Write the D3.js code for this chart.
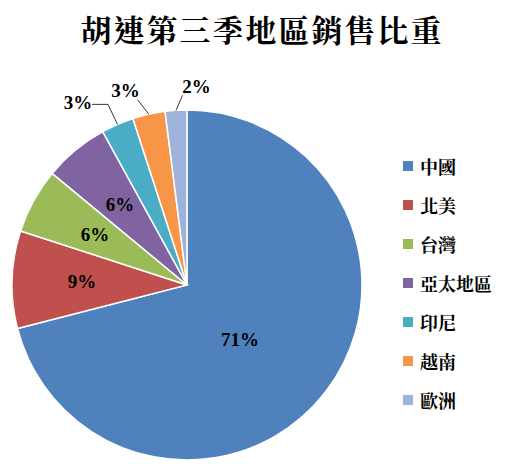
<!DOCTYPE html>
<html><head><meta charset="utf-8">
<script src="https://cdn.jsdelivr.net/npm/d3@7"></script>
<style>body{margin:0;background:#fff}</style>
</head><body><div></div>
<script>
const width = 530, height = 464;
const regions = ["中國", "北美", "台灣", "亞太地區", "印尼", "越南", "歐洲"];
const shares = [71, 9, 6, 6, 3, 3, 2];
const colors = ["#4F81BD", "#C0504D", "#9BBB59", "#8064A2", "#4BACC6", "#F79646", "#9DB3DC"];

const svg = d3.select("div").append("svg").attr("width", width).attr("height", height);

svg.append("text").attr("x", 262).attr("y", 42).attr("text-anchor", "middle")
  .attr("font-family", "Noto Serif CJK TC, Noto Sans CJK TC").attr("font-weight", "bold")
  .attr("font-size", 31).attr("letter-spacing", 2).text("胡連第三季地區銷售比重");

const cx = 187, cy = 285, r = 175;
const color = d3.scaleOrdinal(regions, colors);
const pie = d3.pie().sort(null).value((d, i) => shares[i]);
const arcs = pie(regions);
const arc = d3.arc().innerRadius(0).outerRadius(r);
const g = svg.append("g").attr("transform", `translate(${cx},${cy})`);

g.selectAll("path").data(arcs).enter().append("path")
  .attr("d", arc).attr("fill", d => color(d.data))
  .attr("stroke", "#fff").attr("stroke-width", 1.5);

const inner = d3.arc().innerRadius(r * 0.6).outerRadius(r * 0.6);
const labelStyle = sel => sel.attr("font-family", "Liberation Serif").attr("font-weight", "bold")
  .attr("font-size", 19).attr("text-anchor", "middle").attr("dominant-baseline", "central");
const shift = {4: -30, 5: -18, 6: 22};

arcs.forEach((d, i) => {
  let p;
  if (shares[i] >= 6) {
    p = inner.centroid(d);
    if (i === 0) p = [p[0] - 30, p[1] - 10];
  } else {
    const a = (d.startAngle + d.endAngle) / 2;
    const edge = [Math.sin(a) * r, -Math.cos(a) * r];
    const rr = r + 24;
    p = [Math.sin(a) * rr + shift[i], -Math.cos(a) * rr];
    if (i === 4) {
      g.append("polyline").attr("fill", "none").attr("stroke", "#000").attr("stroke-width", 0.8)
        .attr("points", [[p[0] + 14, p[1] + 2], [p[0] + 30, p[1] + 2], edge].map(q => q.join(",")).join(" "));
    } else {
      g.append("line").attr("stroke", "#000").attr("stroke-width", 0.8)
        .attr("x1", edge[0]).attr("y1", edge[1]).attr("x2", p[0] + (i === 6 ? -14 : 12)).attr("y2", p[1] + 9);
    }
  }
  g.append("text").attr("x", p[0]).attr("y", p[1]).call(labelStyle).text(shares[i] + "%");
});

const legend = svg.append("g").attr("transform", "translate(403,166)");
const item = legend.selectAll("g").data(regions).enter().append("g")
  .attr("transform", (d, i) => `translate(0,${i * 39})`);
item.append("rect").attr("x", 0).attr("y", -5).attr("width", 10).attr("height", 10).attr("fill", d => color(d));
item.append("text").attr("x", 17).attr("y", 0).attr("dominant-baseline", "central")
  .attr("font-family", "Noto Serif CJK TC, Noto Sans CJK TC").attr("font-weight", "bold")
  .attr("font-size", 18).text(d => d);
</script>
</body></html>
